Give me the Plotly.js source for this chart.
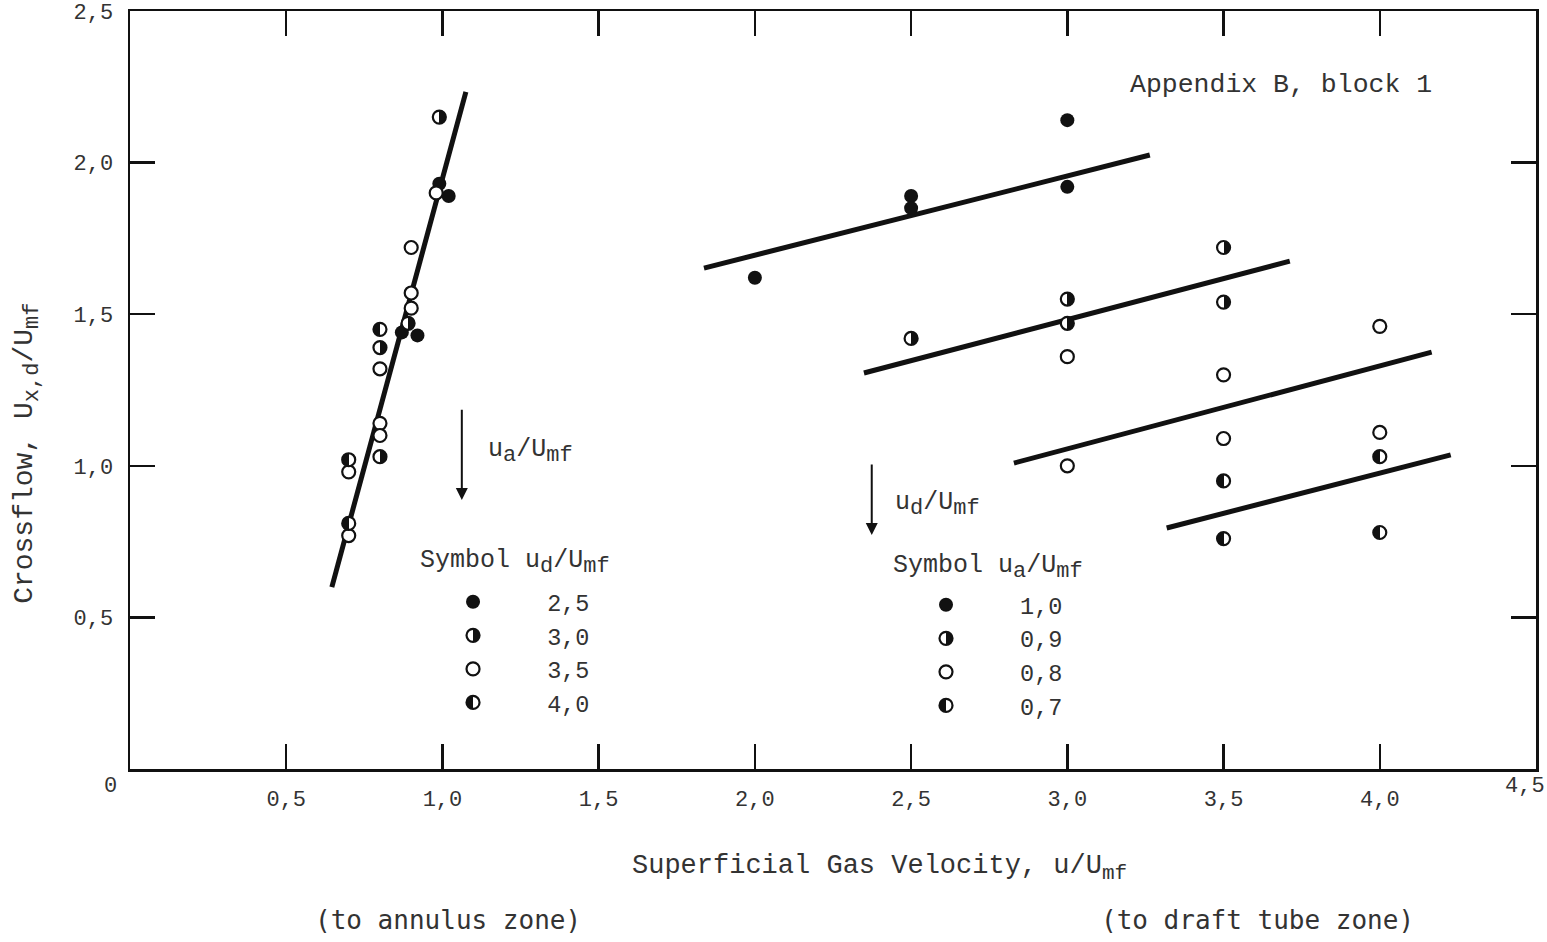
<!DOCTYPE html>
<html>
<head>
<meta charset="utf-8">
<script src="https://cdn.plot.ly/plotly-3.0.1.min.js"></script>
<style>
html,body{margin:0;padding:0;background:#fff;}
#chart{width:1547px;height:942px;}
</style>
</head>
<body>
<div id="chart"></div>
<script>
// ---------- DATA ----------
// Left group (to annulus zone): x = ua/Umf, one series per ud/Umf
const annulusX_ud25 = [0.99, 1.02, 0.87, 0.92];
const annulusY_ud25 = [1.93, 1.89, 1.44, 1.43];
const annulusX_ud30 = [0.99, 0.89, 0.80, 0.80];
const annulusY_ud30 = [2.15, 1.47, 1.39, 1.03];
const annulusX_ud35 = [0.98, 0.90, 0.90, 0.90, 0.80, 0.80, 0.80, 0.70, 0.70];
const annulusY_ud35 = [1.90, 1.72, 1.57, 1.52, 1.32, 1.14, 1.10, 0.98, 0.77];
const annulusX_ud40 = [0.80, 0.70, 0.70];
const annulusY_ud40 = [1.45, 1.02, 0.81];
const annulusLineX = [0.646, 1.075];
const annulusLineY = [0.600, 2.233];

// Right group (to draft tube zone): x = ud/Umf, one series per ua/Umf
const draftX_ua10 = [2.0, 2.5, 2.5, 3.0, 3.0];
const draftY_ua10 = [1.62, 1.89, 1.85, 2.14, 1.92];
const draftX_ua09 = [2.5, 3.0, 3.0, 3.5, 3.5];
const draftY_ua09 = [1.42, 1.55, 1.47, 1.72, 1.54];
const draftX_ua08 = [3.0, 3.0, 3.5, 3.5, 4.0, 4.0];
const draftY_ua08 = [1.36, 1.00, 1.30, 1.09, 1.46, 1.11];
const draftX_ua07 = [3.5, 3.5, 4.0, 4.0];
const draftY_ua07 = [0.95, 0.76, 1.03, 0.78];
const draftLine10X = [1.837, 3.264], draftLine10Y = [1.652, 2.025];
const draftLine09X = [2.349, 3.712], draftLine09Y = [1.306, 1.675];
const draftLine08X = [2.829, 4.166], draftLine08Y = [1.009, 1.375];
const draftLine07X = [3.318, 4.227], draftLine07Y = [0.795, 1.036];

const xTickVals = [0.5, 1.0, 1.5, 2.0, 2.5, 3.0, 3.5, 4.0, 4.5];
const xTickText = ['0,5', '1,0', '1,5', '2,0', '2,5', '3,0', '3,5', '4,0', '4,5'];
const yTickVals = [0.5, 1.0, 1.5, 2.0, 2.5];
const yTickText = ['0,5', '1,0', '1,5', '2,0', '2,5'];

const annulusLegendLabels = ['2,5', '3,0', '3,5', '4,0'];   // ud/Umf
const draftLegendLabels = ['1,0', '0,9', '0,8', '0,7'];     // ua/Umf

// ---------- STYLE ----------
const MONO = 'Liberation Mono, DejaVu Sans Mono, monospace';
const INK = '#111';
const TXT = '#333';
const NB = '\u00A0';
function sub(s, px) { return '<sub><span style="font-size:' + (px || 22) + 'px">' + s + '</span></sub>'; }

// symbol kinds: 'full', 'rhalf' (right half black), 'open', 'lhalf' (left half black)
function markerFor(kind) {
  const base = {size: 13, line: {width: 2.2, color: INK}};
  if (kind === 'full') return {symbol: 'circle', size: 14, color: INK, line: {width: 0}};
  if (kind === 'open') return Object.assign(base, {symbol: 'circle', color: '#fff'});
  if (kind === 'lhalf') return Object.assign(base, {symbol: 'circle', color: INK, gradient: {type: 'horizontal', color: '#fff'}});
  return Object.assign(base, {symbol: 'circle', color: '#fff', gradient: {type: 'horizontal', color: INK}});
}
function pts(x, y, kind, name, legend) {
  return {x, y, type: 'scatter', mode: 'markers', hoverinfo: 'skip', name: NB + name,
    legend, showlegend: true, marker: markerFor(kind)};
}
function fitLine(x, y) {
  return {x, y, type: 'scatter', mode: 'lines', hoverinfo: 'skip', showlegend: false,
    line: {color: INK, width: 5}};
}

const traces = [
  fitLine(annulusLineX, annulusLineY),
  fitLine(draftLine10X, draftLine10Y),
  fitLine(draftLine09X, draftLine09Y),
  fitLine(draftLine08X, draftLine08Y),
  fitLine(draftLine07X, draftLine07Y),
  pts(annulusX_ud25, annulusY_ud25, 'full', annulusLegendLabels[0], 'legend'),
  pts(annulusX_ud30, annulusY_ud30, 'rhalf', annulusLegendLabels[1], 'legend'),
  pts(annulusX_ud35, annulusY_ud35, 'open', annulusLegendLabels[2], 'legend'),
  pts(annulusX_ud40, annulusY_ud40, 'lhalf', annulusLegendLabels[3], 'legend'),
  pts(draftX_ua10, draftY_ua10, 'full', draftLegendLabels[0], 'legend2'),
  pts(draftX_ua09, draftY_ua09, 'rhalf', draftLegendLabels[1], 'legend2'),
  pts(draftX_ua08, draftY_ua08, 'open', draftLegendLabels[2], 'legend2'),
  pts(draftX_ua07, draftY_ua07, 'lhalf', draftLegendLabels[3], 'legend2')
];

const annotations = [];
function txt(x, y, text, opts) {
  annotations.push(Object.assign({x, y, xref: 'x', yref: 'y', text, showarrow: false,
    font: {family: MONO, size: 25, color: TXT}, xanchor: 'left', yanchor: 'middle'}, opts || {}));
}
function ptxt(x, y, text, opts) {
  annotations.push(Object.assign({x, y, xref: 'paper', yref: 'paper', text, showarrow: false,
    font: {family: MONO, size: 27, color: TXT}, xanchor: 'center', yanchor: 'middle'}, opts || {}));
}

txt(3.194, 2.256, 'Appendix B, block 1', {font: {family: MONO, size: 26.5, color: TXT}});
txt(1.139, 1.048, 'u' + sub('a') + '/U' + sub('mf'));
txt(2.442, 0.873, 'u' + sub('d') + '/U' + sub('mf'));
// legend headers
txt(0.922, 0.680, 'Symbol u' + sub('d') + '/U' + sub('mf'));
txt(2.435, 0.664, 'Symbol u' + sub('a') + '/U' + sub('mf'));

// arrows
annotations.push({x: 1.062, y: 0.887, ax: 1.062, ay: 1.19, xref: 'x', yref: 'y', axref: 'x', ayref: 'y',
  showarrow: true, arrowhead: 2, arrowsize: 1.2, arrowwidth: 2, arrowcolor: INK, text: ''});
annotations.push({x: 2.374, y: 0.772, ax: 2.374, ay: 1.009, xref: 'x', yref: 'y', axref: 'x', ayref: 'y',
  showarrow: true, arrowhead: 2, arrowsize: 1.2, arrowwidth: 2, arrowcolor: INK, text: ''});

// axis titles and notes
ptxt(0.533, -0.1306, 'Superficial Gas Velocity, u/U' + sub('mf', 21));
ptxt(0.226, -0.199, '(to annulus zone)', {font: {family: 'DejaVu Sans Mono', size: 26, color: TXT}});
ptxt(0.802, -0.199, '(to draft tube zone)', {font: {family: 'DejaVu Sans Mono', size: 26, color: TXT}});
ptxt(-0.0733, 0.417, 'Crossflow, U' + sub('x,d', 22) + '/U' + sub('mf', 22), {textangle: -90, font: {family: MONO, size: 28, color: TXT}});
ptxt(-0.0142, -0.0237, '0', {font: {family: MONO, size: 22, color: TXT}});
// last x tick label sits at the right edge: drawn as an annotation so it stays inside the page
annotations.push({x: xTickVals[xTickVals.length - 1], y: -0.0237, xref: 'x', yref: 'paper',
  text: xTickText[xTickText.length - 1], showarrow: false, xanchor: 'center', yanchor: 'middle', xshift: -11,
  font: {family: MONO, size: 22, color: TXT}});

const axisCommon = {
  showgrid: false, zeroline: false, showline: true, linecolor: INK, linewidth: 2.5,
  mirror: 'allticks', ticks: 'inside', ticklen: 25, tickwidth: 2.5, tickcolor: INK,
  tickfont: {family: MONO, size: 22, color: TXT}, tickmode: 'array', fixedrange: true
};

const legendCommon = {
  xanchor: 'left', yanchor: 'top', bgcolor: 'rgba(0,0,0,0)', borderwidth: 0,
  font: {family: MONO, size: 23.5, color: TXT}, itemwidth: 110, tracegroupgap: 0,
  itemclick: false, itemdoubleclick: false, orientation: 'v'
};

const layout = {
  width: 1547, height: 942,
  margin: {l: 130, r: 11, t: 11, b: 173},
  paper_bgcolor: '#fff', plot_bgcolor: '#fff',
  showlegend: true,
  legend: Object.assign({}, legendCommon, {x: 0.2013, y: 0.2493}),
  legend2: Object.assign({}, legendCommon, {x: 0.5377, y: 0.2454}),
  xaxis: Object.assign({}, axisCommon, {range: [0, 4.5], tickvals: xTickVals,
    ticktext: xTickText.map((t, i) => i === xTickText.length - 1 ? '' : t), ticklabelstandoff: 8}),
  yaxis: Object.assign({}, axisCommon, {range: [0, 2.5], tickvals: yTickVals, ticktext: yTickText,
    ticklabelstandoff: 10}),
  annotations
};

// make the library's horizontal marker gradients two-tone (half-filled circles)
function hardenGradients(gd) {
  gd.querySelectorAll('linearGradient').forEach(lg => {
    const stops = lg.querySelectorAll('stop');
    if (stops.length < 2) return;
    const col = s => s.getAttribute('stop-color') || s.style.stopColor;
    const c0 = col(stops[0]), c1 = col(stops[stops.length - 1]);
    while (lg.firstChild) lg.removeChild(lg.firstChild);
    [[0, c0], [50, c0], [50, c1], [100, c1]].forEach(([o, c]) => {
      const s = document.createElementNS('http://www.w3.org/2000/svg', 'stop');
      s.setAttribute('offset', o + '%');
      s.setAttribute('stop-color', c);
      lg.appendChild(s);
    });
  });
}

Plotly.newPlot('chart', traces, layout, {staticPlot: true, displayModeBar: false})
  .then(hardenGradients);
</script>
</body>
</html>
